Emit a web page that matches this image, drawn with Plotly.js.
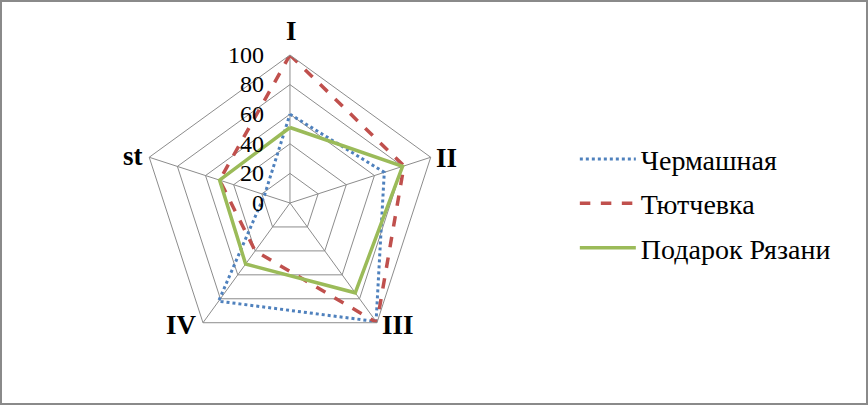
<!DOCTYPE html>
<html>
<head>
<meta charset="utf-8">
<script src="https://cdn.plot.ly/plotly-3.0.1.min.js"></script>
<style>
html,body{margin:0;padding:0;background:#fff;}
#chart{width:864px;height:401px;border:2px solid #8a8a8a;}
</style>
</head>
<body>
<div id="chart"></div>
<script>
const categories = ["I", "II", "III", "IV", "st"];
const chermashnaya = [60, 67, 99, 82, 18];
const tyutchevka = [100, 81, 100, 40, 50];
const podarokRyazani = [51, 80, 75, 51, 50];
const seriesNames = ["Чермашная", "Тютчевка", "Подарок Рязани"];
const tickVals = [0, 20, 40, 60, 80, 100];

function closed(a) { return a.concat([a[0]]); }

const styles = [
  {color: "#4F81BD", dash: "dot", width: 3},
  {color: "#C0504D", dash: "dash", width: 3.5},
  {color: "#9BBB59", dash: "solid", width: 3.5}
];
const series = [chermashnaya, tyutchevka, podarokRyazani];

const data = series.map((vals, i) => ({
  type: "scatterpolar",
  mode: "lines",
  r: closed(vals),
  theta: closed(categories),
  name: seriesNames[i],
  legendgroup: "g" + i,
  line: {color: styles[i].color, dash: styles[i].dash, width: styles[i].width},
  hoverinfo: "skip"
}));

const serif = "'Times New Roman', 'Liberation Serif', 'DejaVu Serif', serif";

// category label positions (paper fractions), in the same order as categories
const labelPos = [
  {x: 0.3345, y: 0.928},
  {x: 0.5139, y: 0.610},
  {x: 0.4578, y: 0.194},
  {x: 0.2083, y: 0.194},
  {x: 0.1516, y: 0.616}
];

const annotations = categories.map((c, i) => ({
  text: "<b>" + c + "</b>",
  xref: "paper", yref: "paper",
  x: labelPos[i].x, y: labelPos[i].y,
  xanchor: "center", yanchor: "middle",
  showarrow: false,
  font: {family: serif, size: 27, color: "#000"}
}));

const layout = {
  width: 864,
  height: 401,
  margin: {l: 0, r: 0, t: 0, b: 0},
  paper_bgcolor: "#ffffff",
  plot_bgcolor: "#ffffff",
  showlegend: true,
  annotations: annotations,
  legend: {
    x: 0.663, y: 0.497, xanchor: "left", yanchor: "middle",
    font: {family: serif, size: 28, color: "#000"},
    traceorder: "grouped",
    tracegroupgap: 5,
    itemwidth: 56,
    bgcolor: "rgba(0,0,0,0)"
  },
  polar: {
    domain: {x: [0.1620, 0.5046], y: [0.1297, 0.8678]},
    gridshape: "linear",
    bgcolor: "rgba(0,0,0,0)",
    radialaxis: {
      range: [0, 100],
      tickvals: tickVals,
      ticktext: tickVals.map(String),
      angle: 90,
      tickangle: 90,
      side: "counterclockwise",
      showline: false,
      ticks: "outside",
      ticklen: 17,
      tickcolor: "rgba(0,0,0,0)",
      gridcolor: "#8c8c8c",
      gridwidth: 1,
      tickfont: {family: serif, size: 24, color: "#000"}
    },
    angularaxis: {
      rotation: 90,
      direction: "clockwise",
      categoryorder: "array",
      categoryarray: categories,
      showline: true,
      linecolor: "#8c8c8c",
      linewidth: 1,
      gridcolor: "#8c8c8c",
      gridwidth: 1,
      ticks: "",
      showticklabels: false
    }
  }
};

Plotly.newPlot("chart", data, layout, {displayModeBar: false, staticPlot: true});
</script>
</body>
</html>
